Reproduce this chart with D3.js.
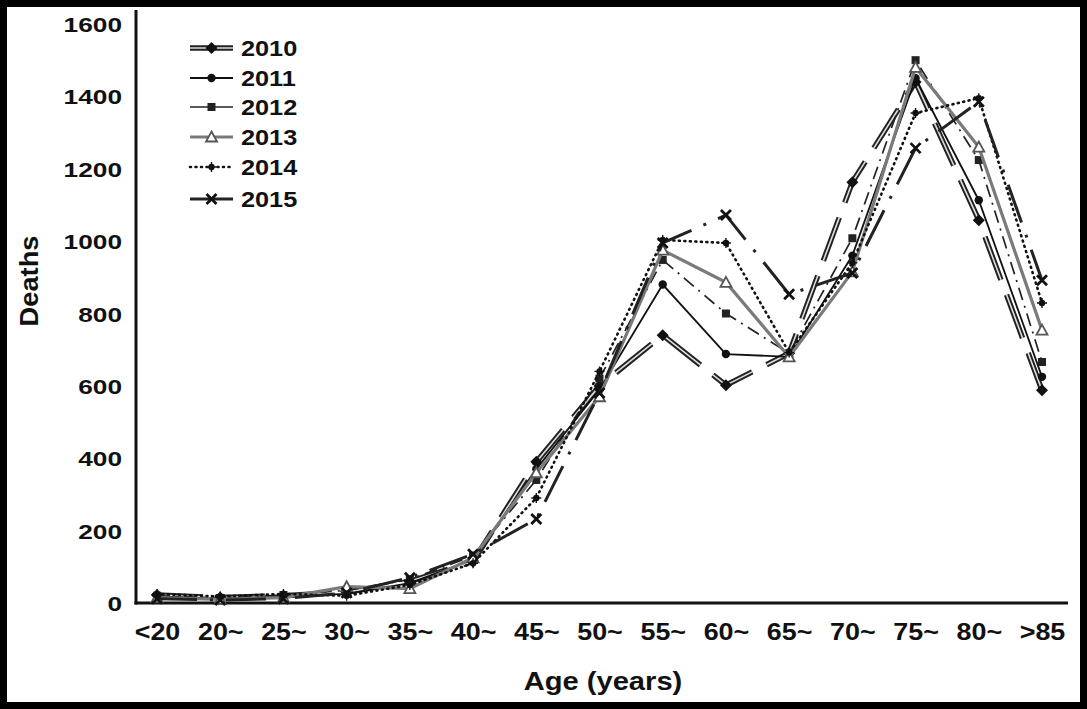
<!DOCTYPE html>
<html><head><meta charset="utf-8">
<script src="https://cdn.jsdelivr.net/npm/d3@7"></script>
<style>html,body{margin:0;padding:0;background:#000;}svg{display:block;}</style>
</head><body>
<svg id="chart" width="1087" height="709"></svg>
<script>
const categories = ["<20","20~","25~","30~","35~","40~","45~","50~","55~","60~","65~","70~","75~","80~",">85"];
const years = ["2010","2011","2012","2013","2014","2015"];
const d2010 = [22, 15, 20, 30, 60, 115, 390, 600, 740, 602, 690, 1163, 1440, 1058, 588];
const d2011 = [18, 12, 18, 25, 55, 120, 370, 590, 880, 688, 680, 960, 1450, 1113, 625];
const d2012 = [20, 14, 22, 35, 65, 130, 340, 620, 948, 800, 690, 1008, 1500, 1224, 666];
const d2013 = [15, 10, 15, 45, 40, 125, 360, 570, 975, 886, 680, 915, 1480, 1260, 754];
const d2014 = [25, 18, 25, 20, 50, 110, 290, 640, 1003, 995, 692, 940, 1354, 1395, 829];
const d2015 = [12, 8, 12, 28, 70, 135, 232, 580, 995, 1072, 853, 912, 1257, 1385, 892];
const yTicks = [0, 200, 400, 600, 800, 1000, 1200, 1400, 1600];

const seriesValues = [d2010, d2011, d2012, d2013, d2014, d2015];
const styles = {
  "2010": {kind:"double", dash:"46,16", marker:"diamond"},
  "2011": {color:"#111", width:1.8, dash:null, marker:"circle"},
  "2012": {color:"#222", width:1.7, dash:"13,6,2,6", marker:"square"},
  "2013": {color:"#7a7a7a", width:3.2, dash:null, marker:"triangle"},
  "2014": {color:"#111", width:2.6, dash:"1,4.5", cap:"round", marker:"plus"},
  "2015": {color:"#222", width:3, dash:"40,13,3,13", marker:"x"}
};

const svg = d3.select("#chart");
svg.append("rect").attr("x",7).attr("y",7).attr("width",1073).attr("height",695).attr("fill","#fff");

const x = d3.scalePoint().domain(categories).range([157, 1042]);
const y = d3.scaleLinear().domain([0, 1600]).range([603, 24]);
const font = "'Liberation Sans', Arial, Helvetica, sans-serif";

// axes
const yAxis = d3.axisLeft(y).tickValues(yTicks).tickSize(0).tickPadding(0).tickFormat(d3.format("d"));
const gy = svg.append("g").attr("transform","translate(136,0)").call(yAxis);
gy.select(".domain").remove();
gy.selectAll("text").attr("font-family",font).attr("font-weight","bold").attr("font-size",21)
  .attr("fill","#111").attr("x",-14/1.25).attr("dy","0.36em").attr("transform","scale(1.25,1)");

const xAxis = d3.axisBottom(x).tickSize(0).tickPadding(0);
const gx = svg.append("g").attr("transform","translate(0,603)").call(xAxis);
gx.select(".domain").remove();
gx.selectAll("text").attr("font-family",font).attr("font-weight","bold").attr("font-size",24)
  .attr("fill","#111").attr("y",20).attr("dy","0.71em").attr("transform","scale(1.12,1)");

svg.append("line").attr("x1",136).attr("x2",136).attr("y1",10).attr("y2",604.5)
  .attr("stroke","#111").attr("stroke-width",3);
svg.append("line").attr("x1",134.5).attr("x2",1068).attr("y1",603).attr("y2",603)
  .attr("stroke","#111").attr("stroke-width",3);

// axis titles
svg.append("text").attr("transform","translate(38,281) rotate(-90) scale(1.05,1)")
  .attr("text-anchor","middle").attr("font-family",font).attr("font-weight","bold")
  .attr("font-size",26).attr("fill","#111").text("Deaths");
svg.append("text").attr("transform","translate(603,690) scale(1.12,1)")
  .attr("text-anchor","middle").attr("font-family",font).attr("font-weight","bold")
  .attr("font-size",26).attr("fill","#111").text("Age (years)");

function drawStroke(g, pathD, st) {
  if (st.kind === "double") {
    g.append("path").attr("d",pathD).attr("fill","none").attr("stroke","#222")
      .attr("stroke-width",5.5).attr("stroke-dasharray",st.dash);
    g.append("path").attr("d",pathD).attr("fill","none").attr("stroke","#ddd")
      .attr("stroke-width",1.6).attr("stroke-dasharray",st.dash);
  } else {
    g.append("path").attr("d",pathD).attr("fill","none").attr("stroke",st.color)
      .attr("stroke-width",st.width).attr("stroke-dasharray",st.dash)
      .attr("stroke-linecap",st.cap || "butt");
  }
}
function drawMarker(g, cx, cy, type) {
  const m = g.append("g").attr("transform",`translate(${cx},${cy})`);
  if (type === "diamond") m.append("path").attr("d","M0,-6L6,0L0,6L-6,0Z").attr("fill","#111");
  else if (type === "circle") m.append("circle").attr("r",4.2).attr("fill","#111");
  else if (type === "square") m.append("rect").attr("x",-4).attr("y",-4).attr("width",8).attr("height",8).attr("fill","#222");
  else if (type === "triangle") m.append("path").attr("d","M0,-5.5L5.5,4.5L-5.5,4.5Z").attr("fill","#fff").attr("stroke","#555").attr("stroke-width",1.8);
  else if (type === "plus") { m.append("circle").attr("r",3.2).attr("fill","#111");
    m.append("path").attr("d","M-5,0H5M0,-5V5").attr("stroke","#111").attr("stroke-width",1.4); }
  else if (type === "x") m.append("path").attr("d","M-5,-5L5,5M5,-5L-5,5").attr("stroke","#111").attr("stroke-width",2.8);
}

const line = d3.line().x((d,i) => x(categories[i])).y(d => y(d));
years.forEach((yr, k) => {
  const vals = seriesValues[k];
  const st = styles[yr];
  const g = svg.append("g").attr("class","series-"+yr);
  drawStroke(g, line(vals), st);
  vals.forEach((v,i) => drawMarker(g, x(categories[i]), y(v), st.marker));
});

// legend
const legY = [48, 78, 107, 137, 167, 199];
years.forEach((yr, k) => {
  const st = styles[yr];
  const g = svg.append("g").attr("class","legend");
  const ly = legY[k];
  drawStroke(g, `M190,${ly}H233`, Object.assign({}, st, {dash: st.kind==="double" ? null : (st.dash && st.dash.startsWith("1,") ? st.dash : null)}));
  drawMarker(g, 211.5, ly, st.marker);
  g.append("text").attr("transform",`translate(241,${ly+8}) scale(1.15,1)`)
    .attr("font-family",font).attr("font-weight","bold").attr("font-size",22)
    .attr("fill","#111").text(yr);
});
</script>
</body></html>
